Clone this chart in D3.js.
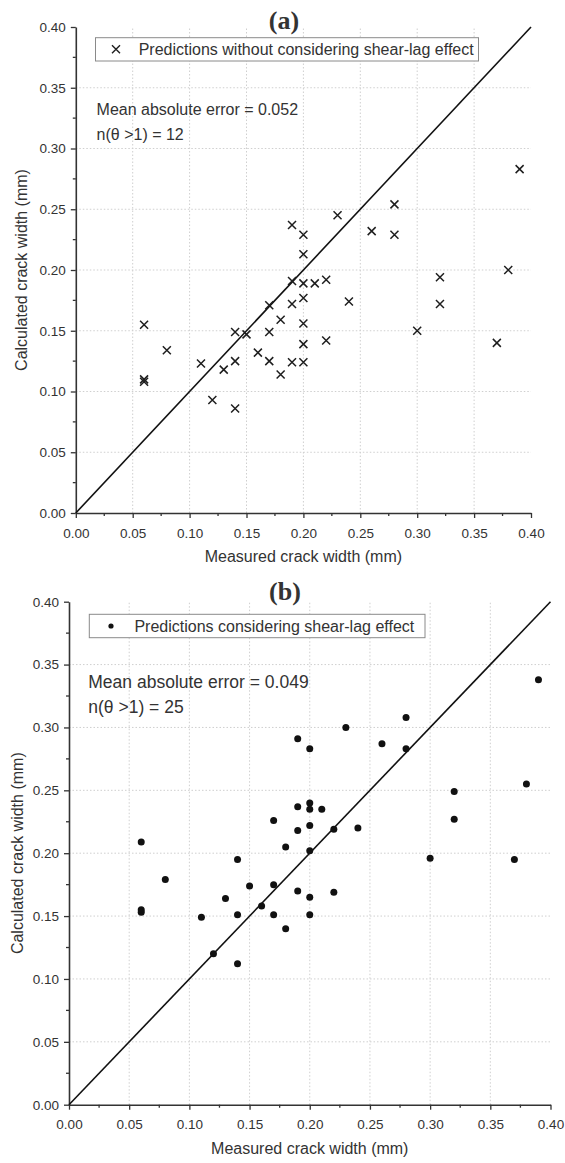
<!DOCTYPE html>
<html>
<head>
<meta charset="utf-8">
<script src="https://cdn.jsdelivr.net/npm/d3@7"></script>
<style>
body { margin: 0; background: #fff; }
svg text { font-family: "Liberation Sans", Arial, sans-serif; fill: #333; }
</style>
</head>
<body>
<main></main>
<script>
// measured crack widths (same specimens in both panels)
var measured = [0.06, 0.06, 0.06, 0.08, 0.11, 0.12, 0.13, 0.14, 0.14, 0.14, 0.15, 0.16,
    0.17, 0.17, 0.17, 0.18, 0.18, 0.19, 0.19, 0.19, 0.19, 0.20, 0.20, 0.20, 0.20, 0.20,
    0.20, 0.20, 0.21, 0.22, 0.22, 0.23, 0.24, 0.26, 0.28, 0.28, 0.30, 0.32, 0.32, 0.37,
    0.38, 0.39];

// (a) predictions without shear-lag effect
var calcWithout = [0.155, 0.110, 0.108, 0.134, 0.123, 0.093, 0.118, 0.149, 0.125, 0.086,
    0.147, 0.132, 0.171, 0.149, 0.125, 0.159, 0.114, 0.237, 0.191, 0.172, 0.124, 0.229,
    0.213, 0.189, 0.177, 0.156, 0.139, 0.124, 0.189, 0.192, 0.142, 0.245, 0.174, 0.232,
    0.254, 0.229, 0.150, 0.194, 0.172, 0.140, 0.200, 0.283];

// (b) predictions with shear-lag effect
var calcWith = [0.209, 0.155, 0.153, 0.179, 0.149, 0.120, 0.164, 0.195, 0.151, 0.112,
    0.174, 0.158, 0.226, 0.175, 0.151, 0.205, 0.140, 0.291, 0.237, 0.218, 0.170, 0.283,
    0.240, 0.235, 0.222, 0.202, 0.165, 0.151, 0.235, 0.219, 0.169, 0.300, 0.220, 0.287,
    0.308, 0.283, 0.196, 0.249, 0.227, 0.195, 0.255, 0.338];

var majorTicks = [0, 0.05, 0.10, 0.15, 0.20, 0.25, 0.30, 0.35, 0.40];
var minorTicks = [0.025, 0.075, 0.125, 0.175, 0.225, 0.275, 0.325, 0.375];
var gridTicks = [0.05, 0.10, 0.15, 0.20, 0.25, 0.30, 0.35];
var lineOfEquality = [0, 0.40];

var xTitle = "Measured crack width (mm)";
var yTitle = "Calculated crack width (mm)";

var svg = d3.select("main")
    .append("svg")
    .attr("width", 565)
    .attr("height", 1163);

function drawPanel(p) {
    var x = d3.scaleLinear().domain([0, 0.4]).range([p.left, p.right]);
    var y = d3.scaleLinear().domain([0, 0.4]).range([p.bottom, p.top]);
    var g = svg.append("g");

    // dotted grid
    g.selectAll(".vgrid").data(gridTicks).enter()
        .append("line")
        .attr("x1", function (d) { return x(d); })
        .attr("x2", function (d) { return x(d); })
        .attr("y1", y(0)).attr("y2", y(0.4))
        .attr("stroke", "#cfcfcf").attr("stroke-width", 1)
        .attr("stroke-dasharray", "1.5,2");
    g.selectAll(".hgrid").data(gridTicks).enter()
        .append("line")
        .attr("y1", function (d) { return y(d); })
        .attr("y2", function (d) { return y(d); })
        .attr("x1", x(0)).attr("x2", x(0.4))
        .attr("stroke", "#cfcfcf").attr("stroke-width", 1)
        .attr("stroke-dasharray", "1.5,2");

    // axes
    var fmt = d3.format(".2f");
    var xAxis = g.append("g")
        .attr("transform", "translate(0," + p.bottom + ")")
        .call(d3.axisBottom(x).tickValues(majorTicks).tickFormat(fmt)
            .tickSize(5).tickSizeOuter(0).tickPadding(10));
    var yAxis = g.append("g")
        .attr("transform", "translate(" + p.left + ",0)")
        .call(d3.axisLeft(y).tickValues(majorTicks).tickFormat(fmt)
            .tickSize(5).tickSizeOuter(0).tickPadding(5));
    [xAxis, yAxis].forEach(function (a) {
        a.select(".domain").attr("stroke", "#333").attr("stroke-width", 1.6);
        a.selectAll(".tick line").attr("stroke", "#333").attr("stroke-width", 1.3);
        a.selectAll(".tick text").attr("font-size", p.tickFont).attr("fill", "#333")
            .style("font-family", "'Liberation Sans', Arial, sans-serif");
    });

    // minor ticks
    g.selectAll(".xminor").data(minorTicks).enter()
        .append("line")
        .attr("x1", function (d) { return x(d); })
        .attr("x2", function (d) { return x(d); })
        .attr("y1", p.bottom).attr("y2", p.bottom + 3)
        .attr("stroke", "#333").attr("stroke-width", 1.3);
    g.selectAll(".yminor").data(minorTicks).enter()
        .append("line")
        .attr("y1", function (d) { return y(d); })
        .attr("y2", function (d) { return y(d); })
        .attr("x1", p.left).attr("x2", p.left - 3)
        .attr("stroke", "#333").attr("stroke-width", 1.3);

    // 1:1 line
    g.append("line")
        .attr("x1", x(lineOfEquality[0])).attr("y1", y(lineOfEquality[0]))
        .attr("x2", x(lineOfEquality[1])).attr("y2", y(lineOfEquality[1]))
        .attr("stroke", "#111").attr("stroke-width", 1.6);

    // points
    var pts = measured.map(function (m, i) { return {x: m, y: p.values[i]}; });
    if (p.marker === "cross") {
        g.selectAll(".pt").data(pts).enter()
            .append("path")
            .attr("d", "M-4,-4L4,4M-4,4L4,-4")
            .attr("transform", function (d) { return "translate(" + x(d.x) + "," + y(d.y) + ")"; })
            .attr("stroke", "#1e1e1e").attr("stroke-width", 1.5).attr("fill", "none");
    } else {
        g.selectAll(".pt").data(pts).enter()
            .append("circle")
            .attr("cx", function (d) { return x(d.x); })
            .attr("cy", function (d) { return y(d.y); })
            .attr("r", 3.5)
            .attr("fill", "#111");
    }

    // legend
    var lg = p.legend;
    g.append("rect")
        .attr("x", lg.x).attr("y", lg.y).attr("width", lg.w).attr("height", lg.h)
        .attr("fill", "#fff").attr("stroke", "#8a8a8a").attr("stroke-width", 1);
    var my = lg.y + lg.h / 2;
    if (p.marker === "cross") {
        g.append("path")
            .attr("d", "M-4,-4L4,4M-4,4L4,-4")
            .attr("transform", "translate(" + lg.mx + "," + my + ")")
            .attr("stroke", "#1e1e1e").attr("stroke-width", 1.4);
    } else {
        g.append("circle").attr("cx", lg.mx).attr("cy", my).attr("r", 2.6).attr("fill", "#111");
    }
    g.append("text")
        .attr("x", lg.tx).attr("y", lg.ty)
        .attr("font-size", 16)
        .text(lg.label);

    // annotations
    p.notes.forEach(function (n, i) {
        g.append("text")
            .attr("x", p.noteX).attr("y", p.noteY[i])
            .attr("font-size", p.noteFont)
            .text(n);
    });

    // panel title
    g.append("text")
        .attr("x", p.titleX).attr("y", p.titleY)
        .attr("text-anchor", "middle")
        .attr("font-size", 26)
        .attr("font-weight", "bold")
        .style("font-family", "'Liberation Serif', 'Times New Roman', serif")
        .attr("fill", "#111")
        .text(p.title);

    // axis titles
    g.append("text")
        .attr("x", (p.left + p.right) / 2).attr("y", p.bottom + 49)
        .attr("text-anchor", "middle")
        .attr("font-size", 16)
        .text(xTitle);
    g.append("text")
        .attr("transform", "translate(" + p.yTitleX + "," + (p.top + p.bottom) / 2 + ") rotate(-90)")
        .attr("text-anchor", "middle")
        .attr("font-size", 16)
        .text(yTitle);
}

drawPanel({
    left: 75.8, right: 531, top: 27, bottom: 513,
    values: calcWithout, marker: "cross", tickFont: 13.5,
    legend: {x: 95.5, y: 37.7, w: 383, h: 23.3, mx: 116, tx: 138.7, ty: 54.8,
        label: "Predictions without considering shear-lag effect"},
    notes: ["Mean absolute error = 0.052", "n(\u03B8 >1) = 12"],
    noteX: 96.6, noteY: [114.5, 139.5], noteFont: 16,
    title: "(a)", titleX: 284, titleY: 28.5, yTitleX: 27
});

drawPanel({
    left: 69, right: 550.5, top: 601.7, bottom: 1104.7,
    values: calcWith, marker: "dot", tickFont: 13.5,
    legend: {x: 89.3, y: 614.3, w: 335.7, h: 23.4, mx: 111, tx: 134.4, ty: 632.3,
        label: "Predictions considering shear-lag effect"},
    notes: ["Mean absolute error = 0.049", "n(\u03B8 >1) = 25"],
    noteX: 88.3, noteY: [688, 713], noteFont: 17.5,
    title: "(b)", titleX: 285, titleY: 600, yTitleX: 23
});
</script>
</body>
</html>
